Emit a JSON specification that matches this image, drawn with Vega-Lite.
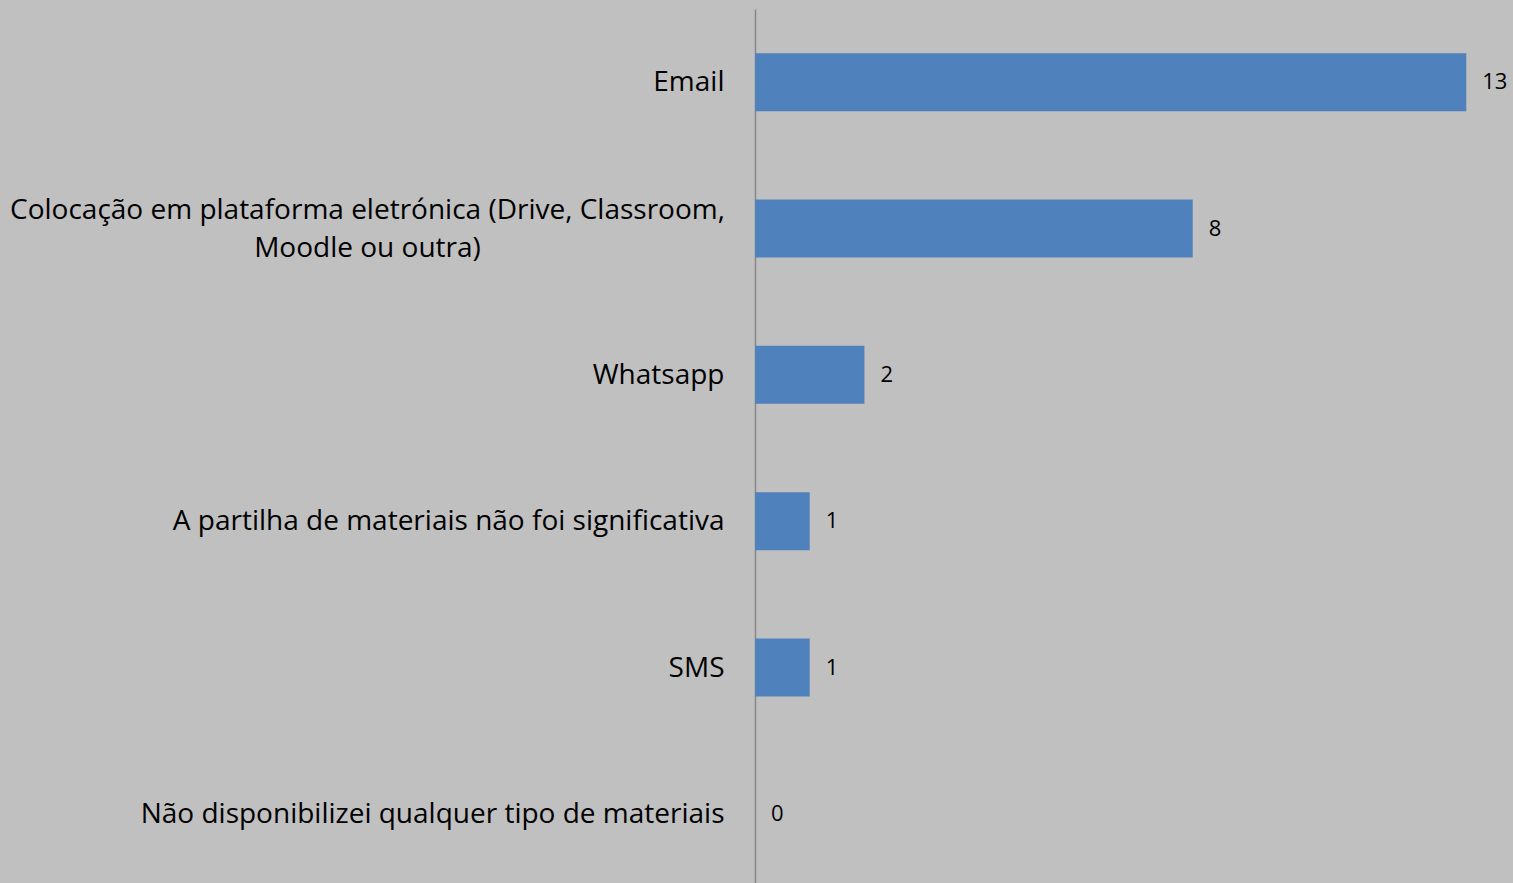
{
  "$schema": "https://vega.github.io/schema/vega-lite/v6.json",
  "autosize": "none",
  "padding": {"left": 755, "top": 9, "right": 0, "bottom": 0},
  "width": 766,
  "height": 878,
  "background": "#C0C0C0",
  "config": {"view": {"stroke": null}},
  "data": {"values": [
    {"cat": "Email", "value": 13},
    {"cat": "Colocação em plataforma eletrónica (Drive, Classroom, Moodle ou outra)", "value": 8},
    {"cat": "Whatsapp", "value": 2},
    {"cat": "A partilha de materiais não foi significativa", "value": 1},
    {"cat": "SMS", "value": 1},
    {"cat": "Não disponibilizei qualquer tipo de materiais", "value": 0}
  ]},
  "encoding": {
    "y": {
      "field": "cat", "type": "nominal", "sort": null,
      "scale": {"paddingInner": 0.604, "paddingOuter": 0.302},
      "axis": {
        "title": null, "ticks": false, "grid": false,
        "domainColor": "#868686", "domainWidth": 1.5,
        "labelFont": "Open Sans", "labelFontSize": 28, "labelColor": "#000000",
        "labelLimit": 1000, "labelLineHeight": 38,
        "labelExpr": "datum.value == 'Colocação em plataforma eletrónica (Drive, Classroom, Moodle ou outra)' ? ['Colocação em plataforma eletrónica (Drive, Classroom,', 'Moodle ou outra)'] : datum.label",
        "labelAlign": {"condition": {"test": "datum.value == 'Colocação em plataforma eletrónica (Drive, Classroom, Moodle ou outra)'", "value": "center"}, "value": "right"},
        "labelPadding": {"condition": {"test": "datum.value == 'Colocação em plataforma eletrónica (Drive, Classroom, Moodle ou outra)'", "value": 388}, "value": 31},
        "labelOffset": {"condition": {"test": "datum.value == 'Colocação em plataforma eletrónica (Drive, Classroom, Moodle ou outra)'", "value": -18}, "value": 1}
      }
    },
    "x": {
      "field": "value", "type": "quantitative",
      "scale": {"domain": [0, 14], "nice": false},
      "axis": null
    }
  },
  "layer": [
    {"mark": {"type": "bar", "color": "#4F81BD"}},
    {"mark": {"type": "text", "align": "left", "baseline": "middle", "dx": 16, "font": "Open Sans", "fontSize": 22, "color": "#000000"},
     "encoding": {"text": {"field": "value", "type": "quantitative"}}}
  ]
}
